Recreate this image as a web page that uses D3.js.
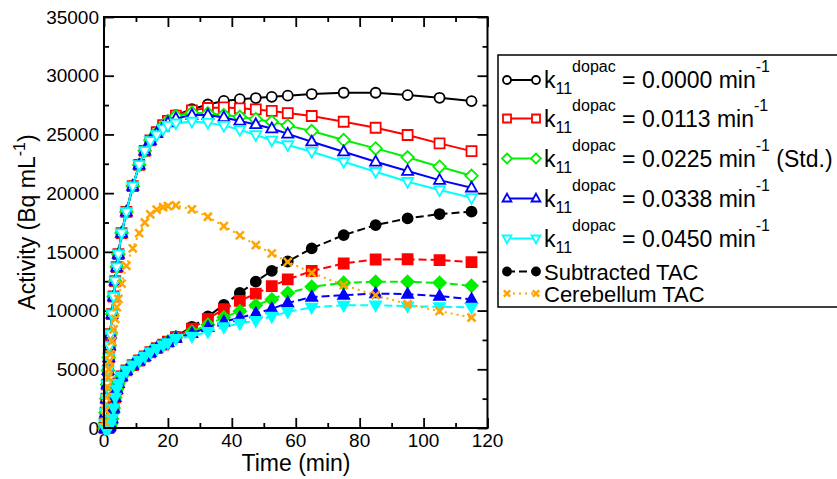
<!DOCTYPE html>
<html lang="en">
<head>
<meta charset="UTF-8">
<title>Activity vs time</title>
<script src="https://d3js.org/d3.v7.min.js"></script>
<style>
  body { margin: 0; background: #fff; }
  text { font-family: "Liberation Sans", Arial, sans-serif; fill: #000; }
</style>
</head>
<body>
<svg width="837" height="479"></svg>
<script>
// frame mid-times (min)
const time = [0.25, 0.5, 0.75, 1, 1.25, 1.5, 1.75, 2, 2.5, 3, 3.5, 4, 4.5, 5.5, 7, 9, 11, 12.75, 14.5, 16.5, 18.5, 20,
              22.5, 27.5, 32.5, 37.5, 42.5, 47.5, 52.5, 57.5, 65, 75, 85, 95, 105, 115];

// simulated TACs (solid, open symbols)
const simK0    = [400, 1300, 2500, 3700, 4900, 6000, 7000, 8000, 9700, 11200, 12500, 13700, 14800, 16600, 18400, 20600, 22400, 23600, 24500, 25200, 25800, 26200,
                  26650, 27150, 27550, 27850, 28000, 28100, 28200, 28300, 28440, 28550, 28550, 28350, 28120, 27840];
const simK0113 = [400, 1300, 2500, 3700, 4900, 6000, 7000, 8000, 9700, 11200, 12500, 13700, 14800, 16600, 18400, 20600, 22400, 23600, 24500, 25200, 25800, 26150,
                  26600, 27050, 27250, 27300, 27220, 27130, 27000, 26820, 26570, 26080, 25570, 24950, 24240, 23580];
const simK0225 = [400, 1300, 2500, 3700, 4900, 6000, 7000, 8000, 9700, 11200, 12500, 13700, 14800, 16600, 18400, 20600, 22400, 23600, 24500, 25150, 25750, 26100,
                  26550, 26850, 26800, 26650, 26500, 26300, 26080, 25750, 25290, 24520, 23810, 23050, 22250, 21480];
const simK0338 = [400, 1300, 2500, 3700, 4900, 6000, 7000, 8000, 9700, 11200, 12500, 13700, 14800, 16600, 18400, 20600, 22400, 23600, 24500, 25100, 25650, 26000,
                  26350, 26650, 26650, 26450, 26150, 25850, 25500, 25050, 24380, 23530, 22670, 21880, 21110, 20460];
const simK0450 = [400, 1300, 2500, 3700, 4900, 6000, 7000, 8000, 9700, 11200, 12500, 13700, 14800, 16600, 18400, 20600, 22400, 23600, 24450, 24950, 25450, 25750,
                  25950, 26100, 26000, 25750, 25400, 24950, 24500, 24100, 23530, 22670, 21820, 20970, 20260, 19600];

// subtracted TACs (dashed, filled symbols)
const subK0    = [0, 0, 0, 0, 0, 50, 150, 300, 800, 1700, 2600, 3300, 3800, 4400, 4900, 5350, 5750, 6100, 6450, 6800, 7100, 7350,
                  7800, 8620, 9500, 10480, 11500, 12470, 13380, 14180, 15300, 16430, 17280, 17850, 18220, 18420];
const subK0113 = [0, 0, 0, 0, 0, 50, 150, 300, 800, 1700, 2600, 3300, 3800, 4400, 4900, 5350, 5750, 6100, 6450, 6800, 7100, 7350,
                  7740, 8470, 9300, 10120, 10820, 11450, 12080, 12650, 13370, 14010, 14350, 14370, 14300, 14120];
const subK0225 = [0, 0, 0, 0, 0, 50, 150, 300, 800, 1700, 2600, 3300, 3800, 4400, 4900, 5350, 5750, 6100, 6450, 6800, 7100, 7350,
                  7700, 8200, 8800, 9420, 9950, 10450, 10950, 11500, 12020, 12360, 12450, 12450, 12360, 12110];
const subK0338 = [0, 0, 0, 0, 0, 50, 150, 300, 800, 1700, 2600, 3300, 3800, 4400, 4900, 5350, 5750, 6100, 6450, 6800, 7100, 7300,
                  7650, 8050, 8580, 9050, 9400, 9750, 10150, 10650, 11150, 11310, 11450, 11400, 11230, 10960];
const subK0450 = [0, 0, 0, 0, 0, 50, 150, 300, 800, 1700, 2600, 3300, 3800, 4400, 4900, 5350, 5750, 6100, 6450, 6750, 7050, 7250,
                  7600, 7800, 8200, 8600, 8900, 9150, 9500, 9900, 10270, 10450, 10460, 10380, 10320, 10270];

const cerebellum = [500, 1500, 2600, 3500, 4300, 5000, 5700, 6300, 7400, 8400, 9300, 10300, 11000, 12300, 13800, 15300, 16600, 17500, 18200, 18600, 18800, 18900,
                    18950, 18620, 17990, 17200, 16400, 15570, 14870, 14150, 13220, 12170, 11310, 10550, 9950, 9410];

const kValues = ["0.0000", "0.0113", "0.0225", "0.0338", "0.0450"];
const xTicks = [0, 20, 40, 60, 80, 100, 120];
const yTicks = [0, 5000, 10000, 15000, 20000, 25000, 30000, 35000];

// series: values, colour, symbol, filled, line style, legend row
const series = [
  {v: simK0,    c: "#000000", s: "circle",  fill: false, dash: null, leg: 0},
  {v: simK0113, c: "#ff0000", s: "square",  fill: false, dash: null, leg: 1},
  {v: simK0225, c: "#00f000", s: "diamond", fill: false, dash: null, leg: 2},
  {v: simK0338, c: "#0000ff", s: "up",      fill: false, dash: null, leg: 3},
  {v: simK0450, c: "#00ffff", s: "down",    fill: false, dash: null, leg: 4},
  {v: subK0,    c: "#000000", s: "circle",  fill: true,  dash: "8,4", leg: 5},
  {v: subK0113, c: "#ff0000", s: "square",  fill: true,  dash: "8,4", leg: -1},
  {v: subK0225, c: "#00f000", s: "diamond", fill: true,  dash: "8,4", leg: -1},
  {v: subK0338, c: "#0000ff", s: "up",      fill: true,  dash: "8,4", leg: -1},
  {v: subK0450, c: "#00ffff", s: "down",    fill: true,  dash: "8,4", leg: -1},
  {v: cerebellum, c: "#ffa500", s: "cross", fill: false, dash: "2,4", leg: 6}
];

const svg = d3.select("svg");
const x = d3.scaleLinear().domain([0, 120]).range([104, 487.5]);
const y = d3.scaleLinear().domain([0, 35000]).range([428, 17]);

function symbolPath(s, r) {
  switch (s) {
    case "circle":  return `M${r},0A${r},${r} 0 1,1 ${-r},0A${r},${r} 0 1,1 ${r},0Z`;
    case "square":  return `M${-r},${-r}H${r}V${r}H${-r}Z`;
    case "diamond": { const d = r * 1.25; return `M0,${-d}L${d},0L0,${d}L${-d},0Z`; }
    case "up":      return `M0,${-r * 1.2}L${r * 1.1},${r * 0.75}L${-r * 1.1},${r * 0.75}Z`;
    case "down":    return `M0,${r * 1.2}L${r * 1.1},${-r * 0.75}L${-r * 1.1},${-r * 0.75}Z`;
    case "cross":   { const d = r * 0.8; return `M${-d},${-d}L${d},${d}M${d},${-d}L${-d},${d}`; }
  }
}

function drawSymbol(g, d, px, py, r) {
  g.append("path")
    .attr("d", symbolPath(d.s, r))
    .attr("transform", `translate(${px},${py})`)
    .attr("fill", d.s === "cross" ? "none" : (d.fill ? d.c : "#fff"))
    .attr("stroke", d.c)
    .attr("stroke-width", d.s === "cross" ? 2.5 : 1.8);
}

// ticks, inward on all four sides
const frame = svg.append("g");
function tickAxis(axis, tx, ty, size, values) {
  const g = frame.append("g").attr("transform", `translate(${tx},${ty})`)
    .call(axis.tickValues(values).tickSize(size).tickFormat(""));
  g.select(".domain").remove();
  g.selectAll("line").attr("stroke", "#000").attr("stroke-width", 1.8);
}
const xMinor = d3.range(10, 120, 20);
const yMinor = d3.range(2500, 35000, 5000);
tickAxis(d3.axisBottom(x), 0, 428, -10, xTicks);
tickAxis(d3.axisBottom(x), 0, 428, -5, xMinor);
tickAxis(d3.axisTop(x), 0, 17, -10, xTicks);
tickAxis(d3.axisTop(x), 0, 17, -5, xMinor);
tickAxis(d3.axisLeft(y), 104, 0, -10, yTicks);
tickAxis(d3.axisLeft(y), 104, 0, -5, yMinor);
tickAxis(d3.axisRight(y), 487.5, 0, -10, yTicks);
tickAxis(d3.axisRight(y), 487.5, 0, -5, yMinor);

// tick labels
svg.append("g").selectAll("text").data(xTicks).join("text")
  .attr("x", d => x(d)).attr("y", 447)
  .attr("text-anchor", "middle").attr("font-size", 19)
  .text(d => d);
svg.append("g").selectAll("text").data(yTicks).join("text")
  .attr("x", 99).attr("y", d => y(d)).attr("dy", "0.35em")
  .attr("text-anchor", "end").attr("font-size", 19)
  .text(d => d);

// axis titles
svg.append("text").attr("x", 296).attr("y", 471).attr("text-anchor", "middle")
  .attr("font-size", 23).text("Time (min)");
const yl = svg.append("text").attr("transform", "translate(35,222) rotate(-90)")
  .attr("text-anchor", "middle").attr("font-size", 23);
yl.append("tspan").text("Activity (Bq mL");
yl.append("tspan").attr("dy", -10).attr("font-size", 16).text("-1");
yl.append("tspan").attr("dy", 10).text(")");

// data
const plot = svg.append("g");
const line = d3.line().x((d, i) => x(time[i])).y(d => y(d));
series.forEach(d => {
  const g = plot.append("g");
  g.append("path").attr("d", line(d.v))
    .attr("fill", "none").attr("stroke", d.c)
    .attr("stroke-width", 2)
    .attr("stroke-dasharray", d.dash);
  d.v.forEach((val, i) => drawSymbol(g, d, x(time[i]), y(val), 5));
});

// frame on top
svg.append("rect").attr("x", 104).attr("y", 17).attr("width", 383.5).attr("height", 411)
  .attr("fill", "none").attr("stroke", "#000").attr("stroke-width", 2);

// legend
const leg = svg.append("g");
leg.append("rect").attr("x", 498).attr("y", 55).attr("width", 345).attr("height", 252)
  .attr("fill", "#fff").attr("stroke", "#000").attr("stroke-width", 1.5);
const legBase = [88, 126.5, 166.5, 206.5, 246.5, 279.5, 301.5];
series.filter(d => d.leg >= 0).forEach(d => {
  const by = legBase[d.leg];
  const cy = by - 8;
  leg.append("line").attr("x1", 507).attr("x2", 536).attr("y1", cy).attr("y2", cy)
    .attr("stroke", d.c).attr("stroke-width", 2).attr("stroke-dasharray", d.dash);
  drawSymbol(leg, d, 507, cy, 4);
  drawSymbol(leg, d, 536, cy, 4);
  const t = leg.append("text").attr("x", 544).attr("y", by).attr("font-size", 23);
  if (d.leg < 5) {
    t.append("tspan").text("k");
    t.append("tspan").attr("dy", 6).attr("font-size", 16).text("11");
    t.append("tspan").attr("dy", -22).attr("font-size", 16).text("dopac");
    t.append("tspan").attr("dy", 16).text(" = " + kValues[d.leg] + " min");
    t.append("tspan").attr("dy", -16).attr("font-size", 16).text("-1");
    if (d.leg === 2) t.append("tspan").attr("dy", 16).text(" (Std.)");
  } else {
    t.attr("font-size", 22).text(d.leg === 5 ? "Subtracted TAC" : "Cerebellum TAC");
  }
});
</script>
</body>
</html>
